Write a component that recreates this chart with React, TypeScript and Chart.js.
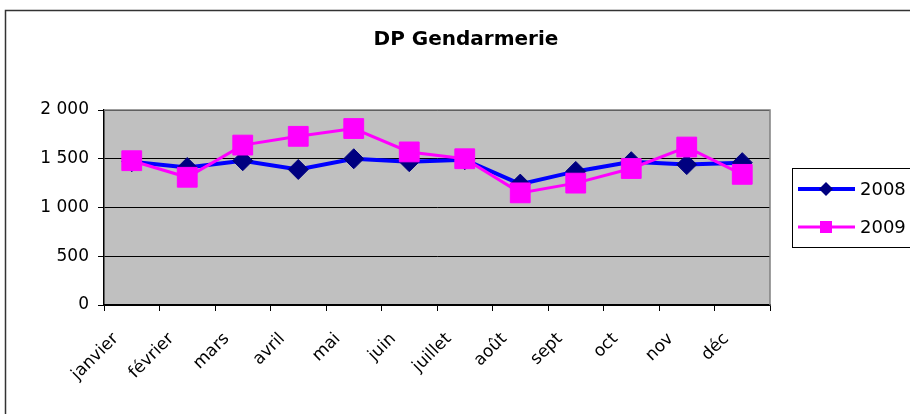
import React, { useEffect, useRef } from "react";
import { Chart, registerables } from "chart.js";

Chart.register(...registerables);

const chartTitle = "DP Gendarmerie";
const months = ["janvier", "février", "mars", "avril", "mai", "juin", "juillet", "août", "sept", "oct", "nov", "déc"];
const label2008 = "2008";
const label2009 = "2009";
const series2008 = [1470, 1410, 1480, 1390, 1500, 1470, 1490, 1240, 1370, 1470, 1440, 1460];
const series2009 = [1480, 1310, 1640, 1730, 1810, 1570, 1500, 1150, 1250, 1400, 1620, 1340];
const yMin = 0;
const yMax = 2000;
const yStep = 500;

const FONT = "'DejaVu Sans', sans-serif";

function fmt(v: number): string {
  if (v >= 1000) {
    const th = Math.floor(v / 1000);
    const rest = String(v % 1000).padStart(3, "0");
    return `${th} ${rest}`;
  }
  return String(v);
}

const framePlugin = {
  id: "frame",
  beforeDraw(chart: any) {
    const { ctx, chartArea } = chart;
    ctx.save();
    ctx.fillStyle = "#ffffff";
    ctx.fillRect(0, 0, chart.width, chart.height);
    ctx.strokeStyle = "#333333";
    ctx.lineWidth = 1.5;
    ctx.strokeRect(5.5, 10.5, chart.width + 20, chart.height + 20);
    ctx.fillStyle = "#C0C0C0";
    ctx.fillRect(chartArea.left, chartArea.top, chartArea.right - chartArea.left, chartArea.bottom - chartArea.top);
    ctx.fillStyle = "#000000";
    ctx.font = `bold 20px ${FONT}`;
    ctx.textAlign = "center";
    ctx.textBaseline = "middle";
    ctx.fillText(chartTitle, 466, 40);
    ctx.restore();
  },
  beforeDatasetsDraw(chart: any) {
    const { ctx, chartArea } = chart;
    ctx.save();
    ctx.strokeStyle = "#808080";
    ctx.lineWidth = 1.5;
    ctx.beginPath();
    ctx.moveTo(chartArea.left, chartArea.top);
    ctx.lineTo(chartArea.right, chartArea.top);
    ctx.lineTo(chartArea.right, chartArea.bottom);
    ctx.stroke();
    ctx.restore();
  },
  afterDraw(chart: any) {
    const { ctx } = chart;
    ctx.save();
    ctx.strokeStyle = "#000000";
    ctx.lineWidth = 1;
    ctx.strokeRect(792.5, 168.5, 140, 79);
    const rows = [189, 227];
    chart.data.datasets.forEach((ds: any, i: number) => {
      const y = rows[i];
      ctx.strokeStyle = ds.borderColor;
      ctx.lineWidth = ds.borderWidth;
      ctx.beginPath();
      ctx.moveTo(798, y);
      ctx.lineTo(855, y);
      ctx.stroke();
      ctx.fillStyle = ds.pointBackgroundColor;
      ctx.beginPath();
      if (ds.pointStyle === "rectRot") {
        const r = 7;
        ctx.moveTo(826 - r, y);
        ctx.lineTo(826, y - r);
        ctx.lineTo(826 + r, y);
        ctx.lineTo(826, y + r);
        ctx.closePath();
      } else {
        ctx.rect(826 - 6, y - 6, 12, 12);
      }
      ctx.fill();
      ctx.fillStyle = "#000000";
      ctx.font = `18px ${FONT}`;
      ctx.textAlign = "left";
      ctx.textBaseline = "middle";
      ctx.fillText(ds.label, 860, y + 1);
    });
    ctx.restore();
  },
};

export default function App() {
  const ref = useRef<HTMLCanvasElement | null>(null);
  useEffect(() => {
    if (!ref.current) return;
    const chart = new Chart(ref.current, {
      type: "line",
      data: {
        labels: months,
        datasets: [
          {
            label: label2008,
            data: series2008,
            borderColor: "#0000FF",
            borderWidth: 4,
            pointStyle: "rectRot",
            pointRadius: 10,
            pointBackgroundColor: "#000080",
            pointBorderColor: "#000080",
            pointBorderWidth: 1,
            order: 1,
            tension: 0,
          },
          {
            label: label2009,
            data: series2009,
            borderColor: "#FF00FF",
            borderWidth: 3,
            pointStyle: "rect",
            pointRadius: 14,
            pointBackgroundColor: "#FF00FF",
            pointBorderColor: "#FF00FF",
            pointBorderWidth: 1,
            order: 0,
            tension: 0,
          },
        ],
      },
      options: {
        responsive: false,
        animation: false,
        events: [],
        layout: { padding: { left: 0, top: 110, right: 140, bottom: 0 } },
        plugins: { legend: { display: false }, title: { display: false }, tooltip: { enabled: false } },
        scales: {
          x: {
            type: "category",
            offset: true,
            afterFit(scale: any) {
              scale.height = 109;
            },
            grid: { display: true, drawOnChartArea: false, drawTicks: true, tickLength: 6, color: "#000000", offset: true },
            border: { display: true, color: "#000000", width: 1.5 },
            ticks: {
              color: "#000000",
              font: { family: FONT, size: 17 },
              minRotation: 45,
              maxRotation: 45,
              autoSkip: false,
              padding: 18,
              labelOffset: -16,
            },
          },
          y: {
            min: yMin,
            max: yMax,
            afterFit(scale: any) {
              scale.width = 104;
            },
            grid: { color: "#000000", lineWidth: 1, tickLength: 6, drawTicks: true },
            border: { display: true, color: "#000000", width: 1.5 },
            ticks: {
              stepSize: yStep,
              color: "#000000",
              font: { family: FONT, size: 17 },
              padding: 9,
              callback: (v: any) => fmt(Number(v)),
            },
          },
        },
      },
      plugins: [framePlugin],
    });
    return () => chart.destroy();
  }, []);
  return (
    <div style={{ position: "absolute", left: 0, top: 0, width: 910, height: 414 }}>
      <canvas ref={ref} width={910} height={414} style={{ display: "block" }} />
    </div>
  );
}
